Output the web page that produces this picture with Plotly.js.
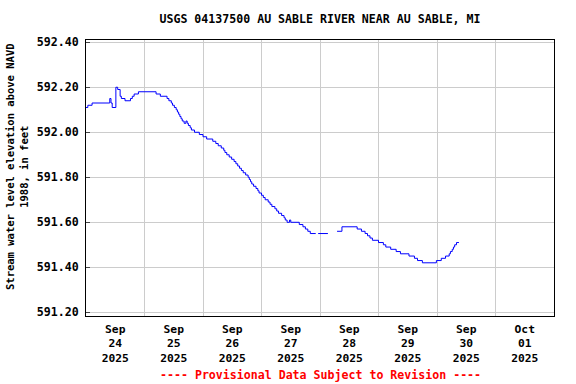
<!DOCTYPE html>
<html>
<head>
<meta charset="utf-8">
<script src="https://cdn.plot.ly/plotly-3.0.1.min.js"></script>
<style>html,body{margin:0;padding:0;background:#fff;}#chart{width:576px;height:384px;}</style>
</head>
<body>
<div id="chart"></div>
<script>
// Gage height readings (change points, step line); null = data gap
const times = [
  "2025-09-24 00:00","2025-09-24 00:45","2025-09-24 02:30","2025-09-24 09:45","2025-09-24 10:15",
  "2025-09-24 10:45","2025-09-24 12:15","2025-09-24 13:00","2025-09-24 14:00","2025-09-24 14:30",
  "2025-09-24 16:00","2025-09-24 18:15","2025-09-24 19:00","2025-09-24 19:45","2025-09-24 21:30",
  "2025-09-25 04:45","2025-09-25 06:30","2025-09-25 09:15","2025-09-25 10:00","2025-09-25 11:00",
  "2025-09-25 11:30","2025-09-25 12:15","2025-09-25 13:00","2025-09-25 13:30","2025-09-25 14:00",
  "2025-09-25 14:30","2025-09-25 15:00","2025-09-25 15:30","2025-09-25 16:15","2025-09-25 17:00",
  "2025-09-25 17:30","2025-09-25 18:00","2025-09-25 18:45","2025-09-25 19:15","2025-09-25 20:30",
  "2025-09-25 22:30","2025-09-26 00:00","2025-09-26 01:30","2025-09-26 04:00","2025-09-26 05:15",
  "2025-09-26 06:15","2025-09-26 07:30","2025-09-26 08:30","2025-09-26 09:00","2025-09-26 09:45",
  "2025-09-26 10:45","2025-09-26 11:45","2025-09-26 12:45","2025-09-26 13:30","2025-09-26 14:15",
  "2025-09-26 15:00","2025-09-26 15:45","2025-09-26 16:30","2025-09-26 17:30","2025-09-26 18:30",
  "2025-09-26 19:00","2025-09-26 19:30","2025-09-26 20:00","2025-09-26 20:45","2025-09-26 21:45",
  "2025-09-26 22:30","2025-09-26 23:00","2025-09-27 00:00","2025-09-27 00:45","2025-09-27 01:30",
  "2025-09-27 02:45","2025-09-27 03:30","2025-09-27 04:15","2025-09-27 05:30","2025-09-27 06:15",
  "2025-09-27 07:00","2025-09-27 08:15","2025-09-27 09:15","2025-09-27 09:45","2025-09-27 10:30",
  "2025-09-27 11:30","2025-09-27 12:00","2025-09-27 15:30","2025-09-27 17:00","2025-09-27 18:00",
  "2025-09-27 19:00","2025-09-27 20:00","2025-09-27 22:15","2025-09-27 22:30","2025-09-27 23:15",
  "2025-09-28 03:15","2025-09-28 03:30","2025-09-28 07:00","2025-09-28 09:00","2025-09-28 15:15",
  "2025-09-28 17:00","2025-09-28 18:30","2025-09-28 19:30","2025-09-28 20:30","2025-09-28 21:30",
  "2025-09-29 00:00","2025-09-29 02:00","2025-09-29 03:00","2025-09-29 05:00","2025-09-29 07:15",
  "2025-09-29 09:00","2025-09-29 12:30","2025-09-29 14:45","2025-09-29 16:00","2025-09-29 18:00",
  "2025-09-29 23:45","2025-09-30 01:45","2025-09-30 03:30","2025-09-30 05:00","2025-09-30 05:30",
  "2025-09-30 06:15","2025-09-30 06:45","2025-09-30 07:15","2025-09-30 08:00","2025-09-30 09:00"
];
const gageHeight = [
  592.11,592.12,592.13,592.15,592.13,
  592.11,592.20,592.19,592.16,592.15,
  592.14,592.15,592.16,592.17,592.18,
  592.17,592.16,592.15,592.14,592.13,
  592.12,592.11,592.10,592.09,592.08,
  592.07,592.06,592.05,592.04,592.05,
  592.04,592.03,592.02,592.01,592.00,
  591.99,591.98,591.97,591.96,591.95,
  591.94,591.93,591.92,591.91,591.90,
  591.89,591.88,591.87,591.86,591.85,
  591.84,591.83,591.82,591.81,591.80,
  591.79,591.78,591.77,591.76,591.75,
  591.74,591.73,591.72,591.71,591.70,
  591.69,591.68,591.67,591.66,591.65,
  591.64,591.63,591.62,591.61,591.60,
  591.61,591.60,591.59,591.58,591.57,
  591.56,591.55,591.55,null,591.55,
  591.55,null,591.56,591.58,591.57,
  591.56,591.55,591.54,591.53,591.52,
  591.51,591.50,591.49,591.48,591.47,
  591.46,591.45,591.44,591.43,591.42,
  591.43,591.44,591.45,591.46,591.47,
  591.48,591.49,591.50,591.51,591.51
];
const yTicks = [591.20,591.40,591.60,591.80,592.00,592.20,592.40];
const titleText = "USGS 04137500 AU SABLE RIVER NEAR AU SABLE, MI";
const yTitle = "Stream water level elevation above NAVD<br>1988, in feet";
const noteText = "---- Provisional Data Subject to Revision ----";

const FONT = "DejaVu Sans Mono, Liberation Mono, monospace";

const trace = {
  x: times, y: gageHeight, type: "scatter", mode: "lines",
  line: {color: "#0000ff", width: 1, shape: "hv"},
  connectgaps: false, hoverinfo: "skip"
};

const layout = {
  width: 576, height: 384,
  margin: {l: 86, r: 22, t: 40, b: 68, pad: 0},
  paper_bgcolor: "#ffffff", plot_bgcolor: "#ffffff",
  showlegend: false,
  title: {
    text: titleText, font: {family: FONT, size: 11.6, color: "#000", weight: "bold"},
    xref: "paper", x: 0.5, xanchor: "center",
    yref: "container", y: 1 - 19/384, yanchor: "middle"
  },
  xaxis: {
    type: "date",
    range: ["2025-09-24 00:00", "2025-10-02 00:00"],
    tick0: "2025-09-24", dtick: 86400000,
    ticklabelmode: "period",
    tickformat: "%b<br>%d<br>%Y",
    tickfont: {family: FONT, size: 11.3, color: "#000", weight: "bold"},
    ticklabelstandoff: 2,
    showgrid: true, gridcolor: "#cccccc", gridwidth: 1,
    ticks: "", showline: true, mirror: true, linecolor: "#000", linewidth: 1,
    zeroline: false, fixedrange: true
  },
  yaxis: {
    range: [591.1836, 592.410],
    tickvals: yTicks, tickformat: ".2f",
    tickfont: {family: FONT, size: 11.6, color: "#000", weight: "bold"},
    showgrid: true, gridcolor: "#cccccc", gridwidth: 1,
    ticks: "inside", ticklen: 4, tickcolor: "#444",
    showline: true, mirror: true, linecolor: "#000", linewidth: 1,
    zeroline: false, fixedrange: true, ticklabelstandoff: 4
  },
  annotations: [
    {
      text: yTitle, textangle: -90, showarrow: false,
      xref: "paper", yref: "paper",
      x: -(86 - 17) / 468, y: (316 - 167) / 276,
      xanchor: "center", yanchor: "middle",
      font: {family: FONT, size: 10.5, color: "#000", weight: "bold"}
    },
    {
      text: noteText, showarrow: false,
      xref: "paper", yref: "paper",
      x: 0.5, y: -(375 - 316) / 276,
      xanchor: "center", yanchor: "middle",
      font: {family: FONT, size: 11.6, color: "#ff0000", weight: "bold"}
    }
  ]
};

Plotly.newPlot("chart", [trace], layout, {staticPlot: true, displayModeBar: false});
</script>
</body>
</html>
